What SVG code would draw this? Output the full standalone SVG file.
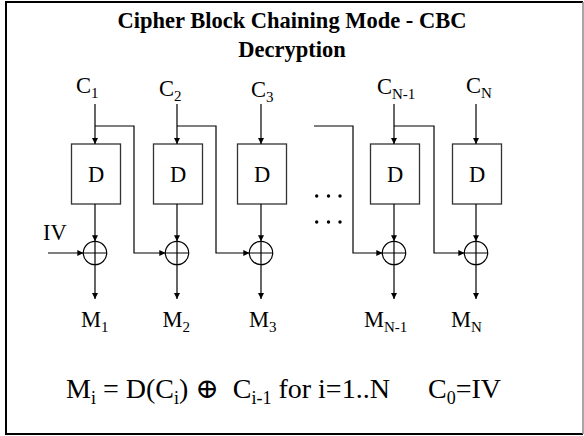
<svg xmlns="http://www.w3.org/2000/svg" width="584" height="436" viewBox="0 0 584 436">
  <style>
    .t { font-family: "Liberation Serif", "Times New Roman", "DejaVu Serif", serif; font-size: 22.5px; fill: #000; }
    .title { font-weight: bold; text-anchor: middle; }
    .sub { font-size: 15px; }
    .box { fill: #fff; stroke: #333; stroke-width: 1.3; }
    .wire { fill: none; stroke: #000; stroke-width: 1.2; }
    .xor { fill: #fff; stroke: #000; stroke-width: 1.2; }
    .dot { fill: #000; }
    .eq { font-size: 28px; white-space: pre; }
    .eqsub { font-size: 18px; }
  </style>
  <defs>
    <marker id="arrow" viewBox="0 0 10 10" refX="10" refY="5" markerWidth="6" markerHeight="6" markerUnits="userSpaceOnUse" orient="auto">
      <path d="M0,0 L10,5 L0,10 z" fill="#000"/>
    </marker>
  </defs>

  <rect width="584" height="436" fill="#fff"/>
  <!-- slide frame -->
  <path d="M583,2 H6 V434 H583" fill="none" stroke="#000" stroke-width="2"/>
  <line x1="583" y1="2" x2="583" y2="434" stroke="#888" stroke-width="1.5"/>

  <g id="title">
    <text class="t title" x="292" y="28">Cipher Block Chaining Mode - CBC</text>
    <text class="t title" x="292" y="57">Decryption</text>
  </g>

  <!-- ciphertext inputs -->
  <g id="c1"><text class="t" x="76" y="93">C<tspan class="sub" dy="5">1</tspan></text></g>
  <g id="c2"><text class="t" x="159" y="96">C<tspan class="sub" dy="5">2</tspan></text></g>
  <g id="c3"><text class="t" x="251" y="97">C<tspan class="sub" dy="5">3</tspan></text></g>
  <g id="cn1"><text class="t" x="377" y="94">C<tspan class="sub" dy="5">N-1</tspan></text></g>
  <g id="cn"><text class="t" x="466" y="93">C<tspan class="sub" dy="5">N</tspan></text></g>

  <!-- decryption blocks -->
  <g id="d1"><rect class="box" x="71.5" y="144" width="49" height="60"/><text class="t" x="96" y="182" text-anchor="middle">D</text></g>
  <g id="d2"><rect class="box" x="153.5" y="144" width="49" height="60"/><text class="t" x="178" y="182" text-anchor="middle">D</text></g>
  <g id="d3"><rect class="box" x="237.5" y="144" width="49" height="60"/><text class="t" x="262" y="182" text-anchor="middle">D</text></g>
  <g id="dn1"><rect class="box" x="370.5" y="144" width="49" height="60"/><text class="t" x="395" y="182" text-anchor="middle">D</text></g>
  <g id="dn"><rect class="box" x="452.5" y="144" width="49" height="60"/><text class="t" x="477" y="182" text-anchor="middle">D</text></g>

  <!-- XOR gates -->
  <g id="x1"><circle class="xor" cx="95" cy="253" r="11.7"/><path class="wire" d="M83.3,253 H106.7 M95,241.3 V264.7"/></g>
  <g id="x2"><circle class="xor" cx="177" cy="253" r="11.7"/><path class="wire" d="M165.3,253 H188.7 M177,241.3 V264.7"/></g>
  <g id="x3"><circle class="xor" cx="261" cy="253" r="11.7"/><path class="wire" d="M249.3,253 H272.7 M261,241.3 V264.7"/></g>
  <g id="xn1"><circle class="xor" cx="394" cy="253" r="11.7"/><path class="wire" d="M382.3,253 H405.7 M394,241.3 V264.7"/></g>
  <g id="xn"><circle class="xor" cx="476" cy="253" r="11.7"/><path class="wire" d="M464.3,253 H487.7 M476,241.3 V264.7"/></g>

  <g id="iv"><text class="t" x="43" y="240">IV</text></g>

  <!-- plaintext outputs -->
  <g id="m1"><text class="t" x="81" y="327">M<tspan class="sub" dy="5">1</tspan></text></g>
  <g id="m2"><text class="t" x="162.5" y="327">M<tspan class="sub" dy="5">2</tspan></text></g>
  <g id="m3"><text class="t" x="249" y="327">M<tspan class="sub" dy="5">3</tspan></text></g>
  <g id="mn1"><text class="t" x="364" y="327">M<tspan class="sub" dy="5">N-1</tspan></text></g>
  <g id="mn"><text class="t" x="451" y="327">M<tspan class="sub" dy="5">N</tspan></text></g>

  <!-- elided middle stages -->
  <g id="ellipsis">
    <circle class="dot" cx="316.7" cy="196" r="1.7"/>
    <circle class="dot" cx="328.5" cy="196" r="1.7"/>
    <circle class="dot" cx="340" cy="196" r="1.7"/>
    <circle class="dot" cx="316.7" cy="222" r="1.7"/>
    <circle class="dot" cx="328.5" cy="222" r="1.7"/>
    <circle class="dot" cx="340" cy="222" r="1.7"/>
  </g>

  <g id="connectors">
    <!-- C inputs into D blocks -->
    <path class="wire" d="M95,104 V144" marker-end="url(#arrow)"/>
    <path class="wire" d="M177,104 V144" marker-end="url(#arrow)"/>
    <path class="wire" d="M261,104 V144" marker-end="url(#arrow)"/>
    <path class="wire" d="M394,104 V144" marker-end="url(#arrow)"/>
    <path class="wire" d="M476,104 V144" marker-end="url(#arrow)"/>
    <!-- D outputs into XOR -->
    <path class="wire" d="M95,204 V241.3" marker-end="url(#arrow)"/>
    <path class="wire" d="M177,204 V241.3" marker-end="url(#arrow)"/>
    <path class="wire" d="M261,204 V241.3" marker-end="url(#arrow)"/>
    <path class="wire" d="M394,204 V241.3" marker-end="url(#arrow)"/>
    <path class="wire" d="M476,204 V241.3" marker-end="url(#arrow)"/>
    <!-- XOR outputs -->
    <path class="wire" d="M95,264.7 V299" marker-end="url(#arrow)"/>
    <path class="wire" d="M177,264.7 V299" marker-end="url(#arrow)"/>
    <path class="wire" d="M261,264.7 V299" marker-end="url(#arrow)"/>
    <path class="wire" d="M394,264.7 V299" marker-end="url(#arrow)"/>
    <path class="wire" d="M476,264.7 V299" marker-end="url(#arrow)"/>
    <!-- IV into first XOR -->
    <path class="wire" d="M48,253 H83.3" marker-end="url(#arrow)"/>
    <!-- chaining: previous ciphertext into next XOR -->
    <path class="wire" d="M95,126 H134 V253 H165.3" marker-end="url(#arrow)"/>
    <path class="wire" d="M177,126 H216 V253 H249.3" marker-end="url(#arrow)"/>
    <path class="wire" d="M314,126 H353 V253 H382.3" marker-end="url(#arrow)"/>
    <path class="wire" d="M394,126 H434 V253 H464.3" marker-end="url(#arrow)"/>
  </g>

  <g id="formula">
    <text class="t eq" x="66" y="398">M<tspan class="eqsub" dy="6">i</tspan><tspan dy="-6"> = D(C</tspan><tspan class="eqsub" dy="6">i</tspan><tspan dy="-6">) ⊕  C</tspan><tspan class="eqsub" dy="6">i-1</tspan><tspan dy="-6"> for i=1..N</tspan></text>
    <text class="t eq" x="428" y="398">C<tspan class="eqsub" dy="6">0</tspan><tspan dy="-6">=IV</tspan></text>
  </g>
</svg>
